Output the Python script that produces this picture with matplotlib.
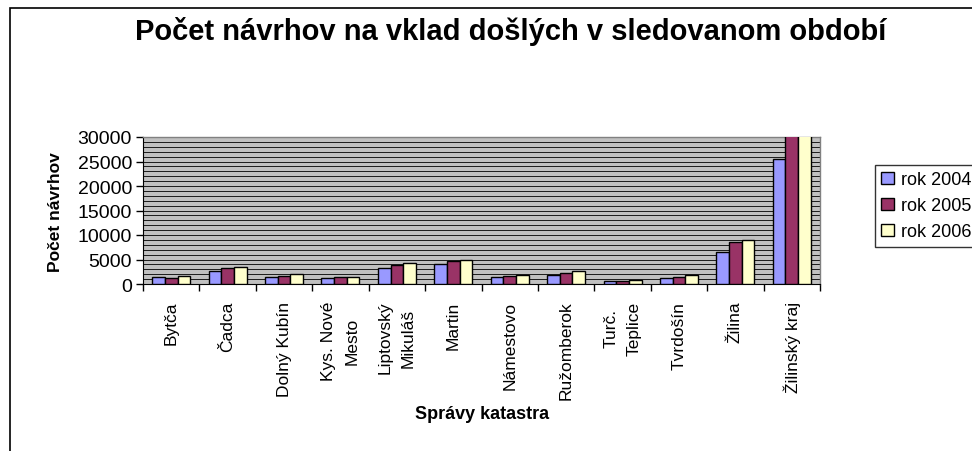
import matplotlib
matplotlib.use("Agg")
import matplotlib.pyplot as plt
import numpy as np
from matplotlib.patches import Rectangle

plt.rcParams['font.family'] = ['Liberation Sans', 'DejaVu Sans']

categories = ["Bytča", "Čadca", "Dolný Kubín", "Kys. Nové\nMesto", "Liptovský\nMikuláš",
              "Martin", "Námestovo", "Ružomberok", "Turč.\nTeplice", "Tvrdošín",
              "Žilina", "Žilinský kraj"]
series_names = ["rok 2004", "rok 2005", "rok 2006"]
rok_2004 = [1350, 2700, 1500, 1200, 3250, 4100, 1500, 1850, 550, 1300, 6550, 25450]
rok_2005 = [1250, 3200, 1700, 1500, 3950, 4650, 1700, 2250, 680, 1500, 8600, 30700]
rok_2006 = [1700, 3550, 2050, 1350, 4350, 4800, 1850, 2600, 750, 1750, 8950, 32000]
colors = ["#9999FF", "#993366", "#FFFFCC"]
yticks = [0, 5000, 10000, 15000, 20000, 25000, 30000]

W, H = 972, 452
fig = plt.figure(figsize=(W / 100, H / 100), dpi=100)

# outer chart border
fig.patches.append(Rectangle((10 / W, -0.1), 1.2, 1 - 9 / H + 0.1, transform=fig.transFigure,
                             fill=False, edgecolor="black", linewidth=1.2))

ax = fig.add_axes([143 / W, 1 - 285 / H, 677 / W, 147 / H])
ax.set_facecolor("#C0C0C0")

n = len(categories)
x = np.arange(n) + 0.5
bw = 0.225
for i, (vals, c, name) in enumerate(zip([rok_2004, rok_2005, rok_2006], colors, series_names)):
    ax.bar(x + (i - 1) * bw, vals, width=bw, color=c, edgecolor="black", linewidth=1.0,
           label=name, zorder=3)

ax.set_xlim(0, n)
ax.set_ylim(0, 30000)
for yv in range(1000, 30000, 1000):
    ax.axhline(yv, color="black", linewidth=0.6, zorder=1)

ax.set_yticks(yticks)
ax.set_yticklabels([str(v) for v in yticks], fontsize=14)
ax.tick_params(axis='y', direction='out', length=5, width=1, pad=3)

ax.set_xticks(np.arange(n + 1))
ax.set_xticklabels([])
ax.tick_params(axis='x', which='major', direction='out', length=5, width=1)
ax.set_xticks(x, minor=True)
ax.set_xticklabels(categories, minor=True, rotation=90, fontsize=12.5, va='top', ha='center',
                   multialignment='center', linespacing=1.7)
ax.tick_params(axis='x', which='minor', length=0, pad=12)

for s in ["top", "right"]:
    ax.spines[s].set_color("#808080")
    ax.spines[s].set_linewidth(1)
ax.spines["left"].set_color("black")
ax.spines["bottom"].set_color("black")

fig.text(511 / W, 1 - 31 / H, "Počet návrhov na vklad došlých v sledovanom období",
         ha='center', va='center', fontsize=21, fontweight='bold')
fig.text(55 / W, 1 - 212 / H, "Počet návrhov", rotation=90, ha='center', va='center',
         fontsize=12.5, fontweight='bold')
fig.text(482 / W, 1 - 415 / H, "Správy katastra", ha='center', va='center',
         fontsize=13, fontweight='bold')

leg = fig.legend(loc='upper left', bbox_to_anchor=(875 / W, 1 - 166 / H), fontsize=13,
                 frameon=True, fancybox=False, edgecolor="black", handlelength=0.7,
                 handleheight=0.7, handletextpad=0.4, labelspacing=0.5, borderpad=0.35,
                 borderaxespad=0)
leg.get_frame().set_linewidth(1)

fig.savefig("out.png", dpi=100)
